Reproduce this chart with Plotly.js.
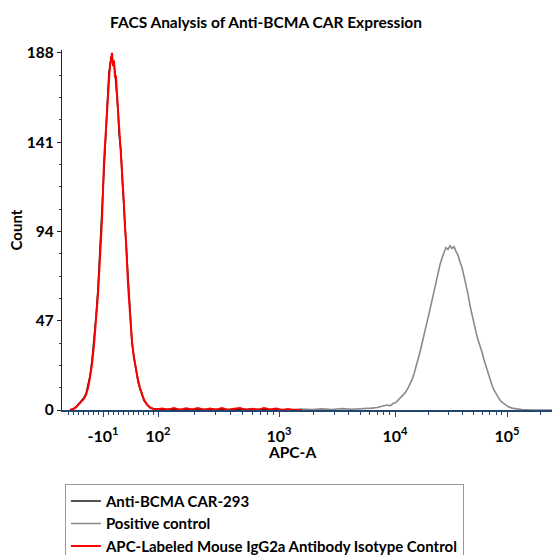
<!DOCTYPE html>
<html>
<head>
<meta charset="utf-8">
<script src="https://cdn.plot.ly/plotly-3.0.1.min.js"></script>
<style>html,body{margin:0;padding:0;background:#fff;}#chart{width:552px;height:555px;}</style>
</head>
<body>
<div id="chart"></div>
<script>
// Display-scale positions (biexponential display channel) of labelled decades
const tickPos = [41, 96, 217, 333, 445];
const tickLabels = ["-10<sup>1</sup>", "10<sup>2</sup>", "10<sup>3</sup>", "10<sup>4</sup>", "10<sup>5</sup>"];
const yTicks = [0, 47, 94, 141, 188];

// Isotype control (red)
const redX = [8, 10, 12, 14, 16, 18, 20, 22, 24, 26, 28, 30, 32, 34, 36, 38, 40, 42, 44, 45, 46, 47, 48, 49, 50, 51, 52, 53, 54, 55, 56, 57, 58, 59, 60, 62, 63, 64, 66, 68, 70, 72, 74, 76, 78, 80, 82, 85, 88, 91, 95, 100, 106, 112, 118, 124, 130, 136, 142, 148, 154, 160, 166, 172, 178, 184, 190, 196, 202, 208, 214, 220, 226, 232, 240];
const redY = [0, 0.2, 0.7, 1.5, 2.6, 3.6, 4.8, 6, 8, 11.5, 17, 24, 34, 47, 61, 80, 100, 131, 150, 160, 170, 176, 182, 184, 188, 181, 184, 175, 176, 166, 156, 148, 142, 134, 126, 108, 96, 89, 66, 48, 36, 27, 21, 16, 11.5, 8, 5.5, 2.8, 1.4, 0.6, 0.3, 0.8, 0.2, 1, 0, 0.9, 0.3, 1, 0, 0.8, 0.2, 1, 0, 0.6, 1, 0, 0.7, 0, 1, 0.3, 0.8, 0, 0.5, 0, 0];

// Anti-BCMA CAR-293 (black)
const blackX = [8, 10, 12, 14, 16, 18, 20, 22, 24, 26, 28, 30, 32, 34, 36, 38, 40, 42, 44, 45, 46, 47, 48, 49, 50, 51, 52, 53, 54, 55, 56, 57, 58, 59, 60, 62, 63, 64, 66, 68, 70, 72, 74, 76, 78, 80, 82, 85, 88, 91, 95, 100, 110, 120, 140, 160, 180, 200, 220, 240];
const blackY = [0, 0.3, 0.8, 1.6, 2.8, 3.8, 5.2, 6.5, 8.5, 12.5, 18, 26, 36, 49, 64, 83, 103, 128, 147, 158, 168, 178, 180, 186, 185, 183, 182, 178, 172, 168, 158, 146, 140, 136, 124, 106, 97, 87, 68, 49, 35, 28, 20, 15, 11, 7.5, 5, 3, 1.2, 0.8, 0.4, 0.3, 0.5, 0.2, 0.4, 0.2, 0.4, 0.2, 0.3, 0];

// Positive control (grey)
const greyX = [230, 240, 250, 260, 270, 280, 290, 300, 305, 310, 315, 320, 325, 328, 331, 334, 337, 340, 343, 346, 348, 350, 352, 354, 356, 358, 360, 362, 364, 366, 368, 370, 372, 374, 376, 378, 380, 382, 384, 386, 388, 390, 392, 394, 396, 398, 400, 402, 404, 406, 408, 410, 412, 414, 416, 418, 420, 422, 424, 426, 428, 430, 432, 434, 436, 438, 440, 443, 446, 450, 455, 460, 470, 480, 490];
const greyY = [0.3, 0.5, 0.2, 0.6, 0.3, 0.7, 0.4, 0.6, 0.8, 1, 1.3, 1.8, 2.6, 2.2, 3.4, 4, 5.5, 7, 9, 11.5, 13.5, 16, 19, 22.5, 26, 30.5, 35, 39, 44, 48.5, 53, 58, 63, 67.5, 72, 76.5, 80, 83, 85.5, 84.5, 86.5, 85, 86, 83.5, 81.5, 78, 75, 70.5, 66, 61, 55, 50, 46, 41, 37, 34, 30.5, 26.5, 23, 19.5, 16, 13, 10.5, 8.5, 6.5, 5.2, 4.2, 2.8, 1.8, 1, 0.5, 0.2, 0, 0, 0];

// Minor tick positions on the display scale
function minorTicks() {
  const out = [];
  for (let v = -80; v <= 90; v += 10) {
    if (v === -10) continue;
    const p = 46 + v * 0.5;
    if (p > 0) out.push(p);
  }
  const dec = [[96, 217], [217, 333], [333, 445], [445, 557]];
  dec.forEach(([a, b]) => {
    for (let k = 2; k <= 9; k++) {
      const p = a + Math.log10(k) * (b - a);
      if (p < 490) out.push(p);
    }
  });
  return out;
}
const yMinor = [];
for (let i = 0; i < 4; i++) for (let j = 1; j <= 3; j++) yMinor.push(yTicks[i] + j * 47 / 4);

const FONT = "Lato, 'Open Sans', sans-serif";
const traces = [
  {x: blackX, y: blackY, name: "Anti-BCMA CAR-293", mode: "lines", line: {color: "#1a1a1a", width: 1.6}},
  {x: greyX, y: greyY, name: "Positive control", mode: "lines", line: {color: "#8a8a8a", width: 1.6}},
  {x: redX, y: redY, name: "APC-Labeled Mouse IgG2a Antibody Isotype Control", mode: "lines", line: {color: "#ff0000", width: 2}}
];

const layout = {
  width: 552, height: 555,
  margin: {l: 62, r: 0, t: 50, b: 145, autoexpand: false},
  paper_bgcolor: "#fff", plot_bgcolor: "#fff",
  font: {family: FONT, size: 15, color: "#000", weight: 700},
  title: {text: "FACS Analysis of Anti-BCMA CAR Expression", x: 0.482, xanchor: "center", y: 0.96, yanchor: "middle", font: {family: FONT, size: 15.5, weight: 700, color: "#000"}},
  xaxis: {
    range: [0, 490], tickmode: "array", tickvals: tickPos, ticktext: tickLabels,
    showgrid: false, zeroline: false, showline: true, linecolor: "#24466e", linewidth: 1.5,
    ticks: "outside", ticklen: 5, tickcolor: "#24466e", tickwidth: 1,
    ticklabelstandoff: 6,
    tickfont: {family: FONT, size: 16, weight: 700, color: "#000"},
    minor: {tickmode: "array", tickvals: minorTicks(), ticks: "outside", ticklen: 3, tickcolor: "#24466e", showgrid: false},
    showline: true,
    fixedrange: true
  },
  yaxis: {
    range: [0, 189.5], tickmode: "array", tickvals: yTicks, ticktext: yTicks.map(String),
    showgrid: false, zeroline: false, showline: true, linecolor: "#222", linewidth: 1.2,
    ticks: "outside", ticklen: 4, tickcolor: "#222",
    tickfont: {family: FONT, size: 15.5, weight: 700, color: "#000"},
    minor: {tickmode: "array", tickvals: yMinor, ticks: "outside", ticklen: 2, tickcolor: "#444", showgrid: false},
    title: {text: "Count", standoff: 0, font: {family: FONT, size: 15, weight: 700, color: "#000"}},
    automargin: true,
    fixedrange: true
  },
  annotations: [
    {text: "APC-A", xref: "paper", yref: "paper", x: 0.469, y: -0.117, xanchor: "center", yanchor: "middle", showarrow: false,
     font: {family: FONT, size: 15.5, weight: 700, color: "#000"}}
  ],
  showlegend: true,
  legend: {
    x: 0.006, xanchor: "left", y: -0.205, yanchor: "top",
    bordercolor: "#999", borderwidth: 1, bgcolor: "#fff",
    font: {family: FONT, size: 15, weight: 700, color: "#000"},
    tracegroupgap: 0, itemwidth: 30
  }
};

Plotly.newPlot("chart", traces, layout, {staticPlot: true, displayModeBar: false});
</script>
</body>
</html>
